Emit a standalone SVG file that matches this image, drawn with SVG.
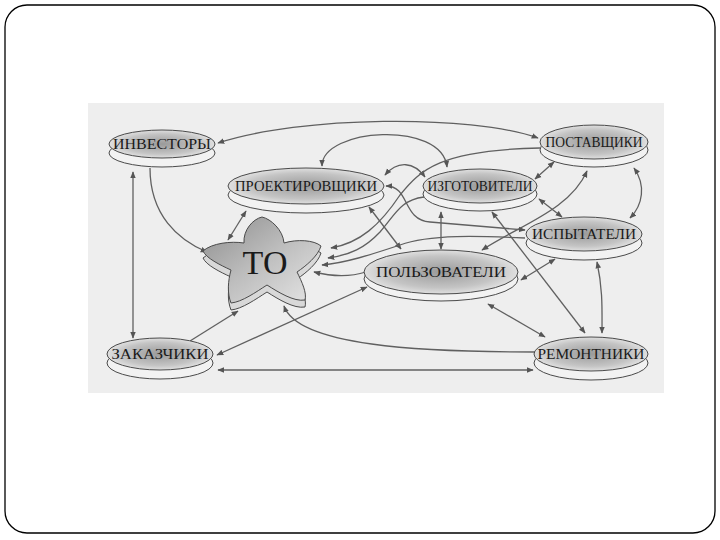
<svg xmlns="http://www.w3.org/2000/svg" width="720" height="540" viewBox="0 0 720 540">
<defs>
<style>
.lbl{font-family:"Liberation Serif","DejaVu Serif",serif;font-size:15px;fill:#1a1a1a;text-anchor:middle}
.rim{fill:#f2f2f2;stroke:#4a4a4a;stroke-width:1}
.top{fill:url(#g);stroke:#4a4a4a;stroke-width:1}
.c{fill:none;stroke:#606060;stroke-width:1.3}
.b{marker-start:url(#ah);marker-end:url(#ah)}
.e{marker-end:url(#ah)}
</style>
<radialGradient id="g" cx="0.5" cy="0.5" r="0.6">
<stop offset="0" stop-color="#9a9a9a"/>
<stop offset="0.6" stop-color="#c4c4c4"/>
<stop offset="1" stop-color="#f4f4f4"/>
</radialGradient>
<linearGradient id="fg" x1="0" y1="0" x2="1" y2="1">
<stop offset="0" stop-color="#8c8c8c"/>
<stop offset="0.5" stop-color="#bdbdbd"/>
<stop offset="1" stop-color="#e6e6e6"/>
</linearGradient>
<marker id="ah" viewBox="0 0 10 10" refX="9" refY="5" markerWidth="7" markerHeight="7" orient="auto-start-reverse" markerUnits="userSpaceOnUse">
<path d="M0,1 L10,5 L0,9 Z" fill="#555"/>
</marker>
<path id="flower" d="M244,243 C243,230 253,219 262,217 C271,219 283,230 284,243 C297,239 314,240 321,246 C318,256 306,266 297,272 C302,282 307,293 305,300 C294,302 278,292 267,285 C256,292 242,302 231,303 C227,293 228,281 231,270 C220,265 206,258 203,251 C212,243 231,241 244,243 Z"/>
</defs>
<rect x="5" y="5" width="710" height="528" rx="22" fill="#fff" stroke="#000" stroke-width="1.3"/>
<rect x="88" y="103" width="576" height="290" fill="#eeeeee"/>

<g id="connectors">
<path class="c b" d="M218,143 C300,116 470,114 538,138"/>
<path class="c b" d="M322,166 C322,128 442,120 447,167"/>
<path class="c e" d="M150,168 C150,215 178,240 207,252"/>
<path class="c b" d="M133,172 L133,338"/>
<path class="c b" d="M246,211 L228,240"/>
<path class="c e" d="M190,341 L238,311"/>
<path class="c b" d="M217,355 L367,287"/>
<path class="c b" d="M218,370 L533,370"/>
<path class="c e" d="M535,352 C420,352 298,346 284,306"/>
<path class="c b" d="M488,304 L545,337"/>
<path class="c b" d="M492,212 L585,333"/>
<path class="c b" d="M597,262 C603,290 602,310 602,333"/>
<path class="c b" d="M634,168 C646,185 643,205 630,218"/>
<path class="c b" d="M554,162 L535,179"/>
<path class="c b" d="M539,199 L562,217"/>
<path class="c b" d="M587,171 C570,210 520,225 482,250"/>
<path class="c b" d="M521,280 L555,259"/>
<path class="c b" d="M441,212 L441,249"/>
<path class="c b" d="M369,207 L401,249"/>
<path class="c b" d="M385,175 C398,160 414,162 425,177"/>
<path class="c b" d="M386,186 C410,186 402,220 430,222 L525,230"/>
<path class="c e" d="M540,148 C440,150 420,170 400,195 C380,225 360,243 331,248"/>
<path class="c e" d="M424,197 C400,200 395,215 380,232 C365,248 350,255 328,258"/>
<path class="c e" d="M525,238 C480,236 430,234 400,245 C370,255 345,263 322,265"/>
<path class="c e" d="M366,272 C350,277 330,276 314,272"/>
</g>

<g id="to">
<use href="#flower" transform="translate(0,7)" fill="#d8d8d8" stroke="#4a4a4a" stroke-width="1"/>
<use href="#flower" fill="url(#fg)" stroke="#4a4a4a" stroke-width="1"/>
<text x="265" y="274" font-family="Liberation Serif, DejaVu Serif, serif" font-size="34" fill="#1a1a1a" text-anchor="middle">ТО</text>
</g>

<g id="investory">
<ellipse class="rim" cx="162" cy="153" rx="53" ry="14"/>
<ellipse class="top" cx="162" cy="144" rx="53" ry="14"/>
<text class="lbl" x="162" y="149" textLength="98" lengthAdjust="spacingAndGlyphs">ИНВЕСТОРЫ</text>
</g>
<g id="proektirovshiki">
<ellipse class="rim" cx="306" cy="195" rx="78" ry="18"/>
<ellipse class="top" cx="306" cy="186" rx="78" ry="18"/>
<text class="lbl" x="306" y="191" textLength="142" lengthAdjust="spacingAndGlyphs">ПРОЕКТИРОВЩИКИ</text>
</g>
<g id="izgotoviteli">
<ellipse class="rim" cx="480" cy="194" rx="57" ry="17"/>
<ellipse class="top" cx="480" cy="186" rx="57" ry="17"/>
<text class="lbl" x="480" y="191" textLength="105" lengthAdjust="spacingAndGlyphs">ИЗГОТОВИТЕЛИ</text>
</g>
<g id="postavshiki">
<ellipse class="rim" cx="594" cy="150" rx="54" ry="17"/>
<ellipse class="top" cx="594" cy="142" rx="54" ry="17"/>
<text class="lbl" x="594" y="147" textLength="97" lengthAdjust="spacingAndGlyphs">ПОСТАВЩИКИ</text>
</g>
<g id="ispytateli">
<ellipse class="rim" cx="584" cy="243" rx="58" ry="17"/>
<ellipse class="top" cx="584" cy="234" rx="58" ry="17"/>
<text class="lbl" x="584" y="239" textLength="104" lengthAdjust="spacingAndGlyphs">ИСПЫТАТЕЛИ</text>
</g>
<g id="polzovateli">
<ellipse class="rim" cx="441" cy="279" rx="77" ry="22"/>
<ellipse class="top" cx="441" cy="272" rx="77" ry="22"/>
<text class="lbl" x="441" y="277" textLength="130" lengthAdjust="spacingAndGlyphs">ПОЛЬЗОВАТЕЛИ</text>
</g>
<g id="zakazchiki">
<ellipse class="rim" cx="160" cy="363" rx="53" ry="16"/>
<ellipse class="top" cx="160" cy="354" rx="53" ry="16"/>
<text class="lbl" x="160" y="359" textLength="97" lengthAdjust="spacingAndGlyphs">ЗАКАЗЧИКИ</text>
</g>
<g id="remontniki">
<ellipse class="rim" cx="591" cy="363" rx="57" ry="17"/>
<ellipse class="top" cx="591" cy="354" rx="57" ry="17"/>
<text class="lbl" x="591" y="359" textLength="107" lengthAdjust="spacingAndGlyphs">РЕМОНТНИКИ</text>
</g>
</svg>
